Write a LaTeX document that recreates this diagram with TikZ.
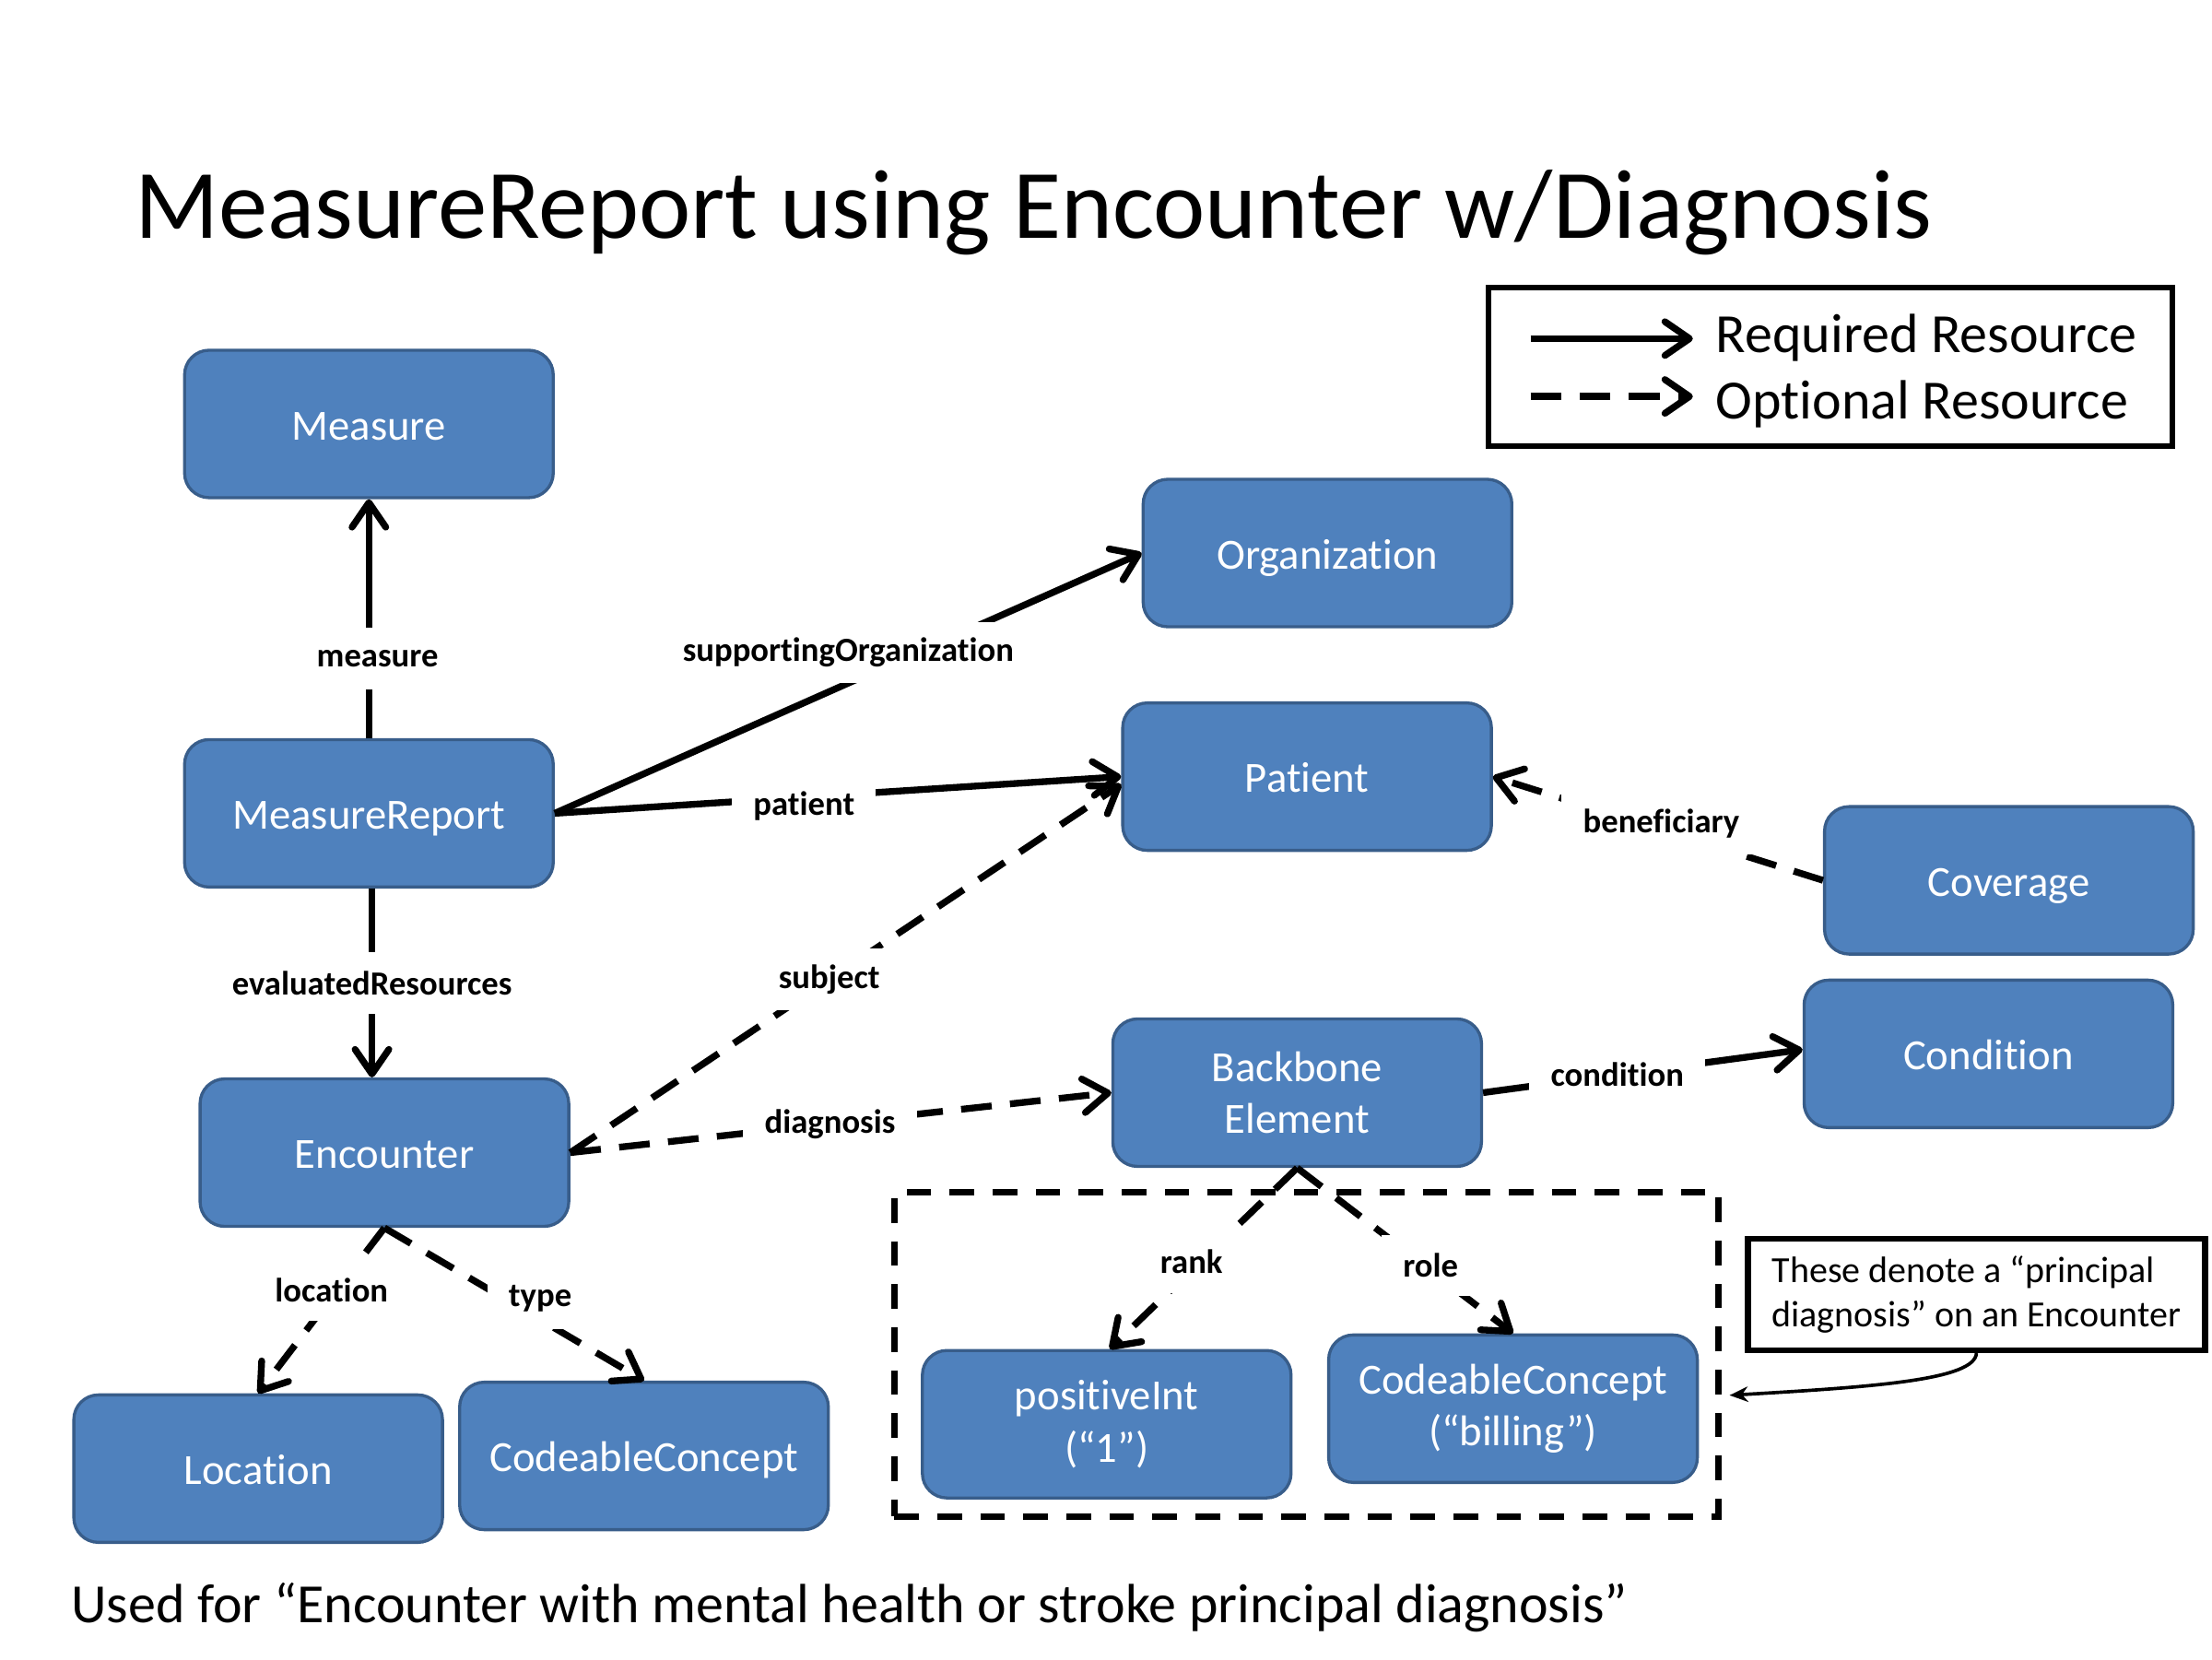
\documentclass[tikz,border=0pt]{standalone}
\usepackage{fontspec}
\setmainfont{Carlito}[Ligatures=NoCommon]
\usetikzlibrary{arrows.meta}
\definecolor{boxfill}{HTML}{4F81BD}
\definecolor{boxline}{HTML}{385D8A}
\begin{document}
\begin{tikzpicture}[x=0.4592pt,y=-0.4592pt,
  res/.style={draw=boxline, line width=1pt, fill=boxfill, rounded corners=8pt,
    minimum width=120pt, minimum height=48pt, text=white, align=center,
    font=\fontsize{14}{17}\selectfont, inner sep=0pt},
  res1/.style={res, text height=12pt, text depth=1.6pt},
  lbl/.style={fill=white, font=\fontsize{11}{13}\selectfont\bfseries,
    inner xsep=7pt, inner ysep=0pt, minimum height=20pt},
  req/.style={line width=2.2pt, -{Straight Barb[length=8pt,width=11pt,round]}},
  opt/.style={req, dash pattern=on 10pt off 6pt},
]
\fill[white] (0,0) rectangle (1568,1176);
\useasboundingbox (0,0) rectangle (1568,1176);

% title and footer
\node[anchor=base west, inner sep=0, font=\fontsize{32}{38}\selectfont] (title) at (95,169)
  {MeasureReport using Encounter w/Diagnosis};
\node[anchor=base west, inner sep=0, font=\fontsize{18}{21}\selectfont] (foot) at (50,1150)
  {Used for “Encounter with mental health or stroke principal diagnosis”};

% legend
\node[draw, line width=1.8pt, minimum width=222.7pt, minimum height=51.4pt, inner sep=0] (legend) at (1297.5,260) {};
\coordinate (ls1) at (1085,240);
\coordinate (le1) at (1200,240);
\coordinate (ls2) at (1085,281);
\coordinate (le2) at (1200,281);
\draw[req] (ls1) -- (le1);
\draw[opt] (ls2) -- (le2);
\node[anchor=base west, inner sep=0, font=\fontsize{18}{21}\selectfont] (lreq) at (1216,250) {Required Resource};
\node[anchor=base west, inner sep=0, font=\fontsize{18}{21}\selectfont] (lopt) at (1216,297) {Optional Resource};

% group box
\node[draw, line width=2.2pt, dash pattern=on 8pt off 6pt, minimum width=268.2pt,
  minimum height=105.6pt, inner sep=0] (grp) at (926,960) {};

% note
\node[draw, line width=1.9pt, minimum width=148.8pt, minimum height=36.3pt, inner sep=0pt,
  align=left, font=\fontsize{12}{14.2}\selectfont] (note)
  at (1401,917.5) {These denote a “principal\\diagnosis” on an Encounter};
\coordinate (notetip) at (1226,989);

% resources
\node[res1] (measure) at (261.5,300.5) {Measure};
\node[res1] (mreport) at (261.5,576.5) {MeasureReport};
\node[res1] (org) at (941,392) {Organization};
\node[res1] (patient) at (926.5,550.5) {Patient};
\node[res1] (coverage) at (1424,624) {Coverage};
\node[res1] (condition) at (1409.5,747) {Condition};
\node[res] (backbone) at (919.5,774.5) {Backbone\\Element};
\node[res1] (encounter) at (272.5,817) {Encounter};
\node[res1] (location) at (183,1041) {Location};
\node[res1] (cctype) at (456.5,1032) {CodeableConcept};
\node[res] (posint) at (784.5,1009.5) {positiveInt\\(“1”)};
\node[res] (ccrole) at (1072.5,998.5) {CodeableConcept\\(“billing”)};

% connectors
\draw[req] (mreport.north) -- node[lbl, pos=0.333, xshift=2.8pt] (lmeasure) {measure} (measure.south);
\draw[req] (mreport.east) -- node[lbl, pos=0.5, yshift=10pt] (lsup) {supportingOrganization} (org.west);
\draw[req] (mreport.east) -- node[lbl, pos=0.44, yshift=-3pt] (lpat) {patient} (patient.west);
\draw[opt] (encounter.east) -- node[lbl, pos=0.47] (lsubj) {subject} ([yshift=-2.5pt]patient.west);
\draw[opt] (encounter.east) -- node[lbl, pos=0.48] (ldiag) {diagnosis} (backbone.west);
\draw[req] ([xshift=1pt]mreport.south) -- node[lbl, pos=0.5] (leval) {evaluatedResources} ([xshift=1pt]mreport.south |- encounter.north);
\draw[opt] (coverage.west) -- node[lbl, pos=0.49, yshift=2pt] (lben) {beneficiary} (patient.east);
\draw[req] (backbone.east) -- node[lbl, pos=0.42] (lcond) {condition} ([yshift=1.4pt]condition.west);
\draw[opt] (encounter.south) -- node[lbl, pos=0.375, xshift=-1.8pt] (lloc) {location} (location.north);
\draw[opt] (encounter.south) -- node[lbl, pos=0.6, yshift=7pt] (ltype) {type} (cctype.north);
\draw[opt] (backbone.south) -- node[lbl, pos=0.52, xshift=-2.7pt] (lrank) {rank} ([xshift=1pt]posint.north);
\draw[opt] (backbone.south) -- node[lbl, pos=0.59, xshift=2pt] (lrole) {role} (ccrole.north);

% note pointer
\draw[line width=1.1pt, -{Stealth[length=6pt,width=5pt]}] (note.south) .. controls (1400,978) and (1330,983) .. (notetip);
\end{tikzpicture}
\end{document}
